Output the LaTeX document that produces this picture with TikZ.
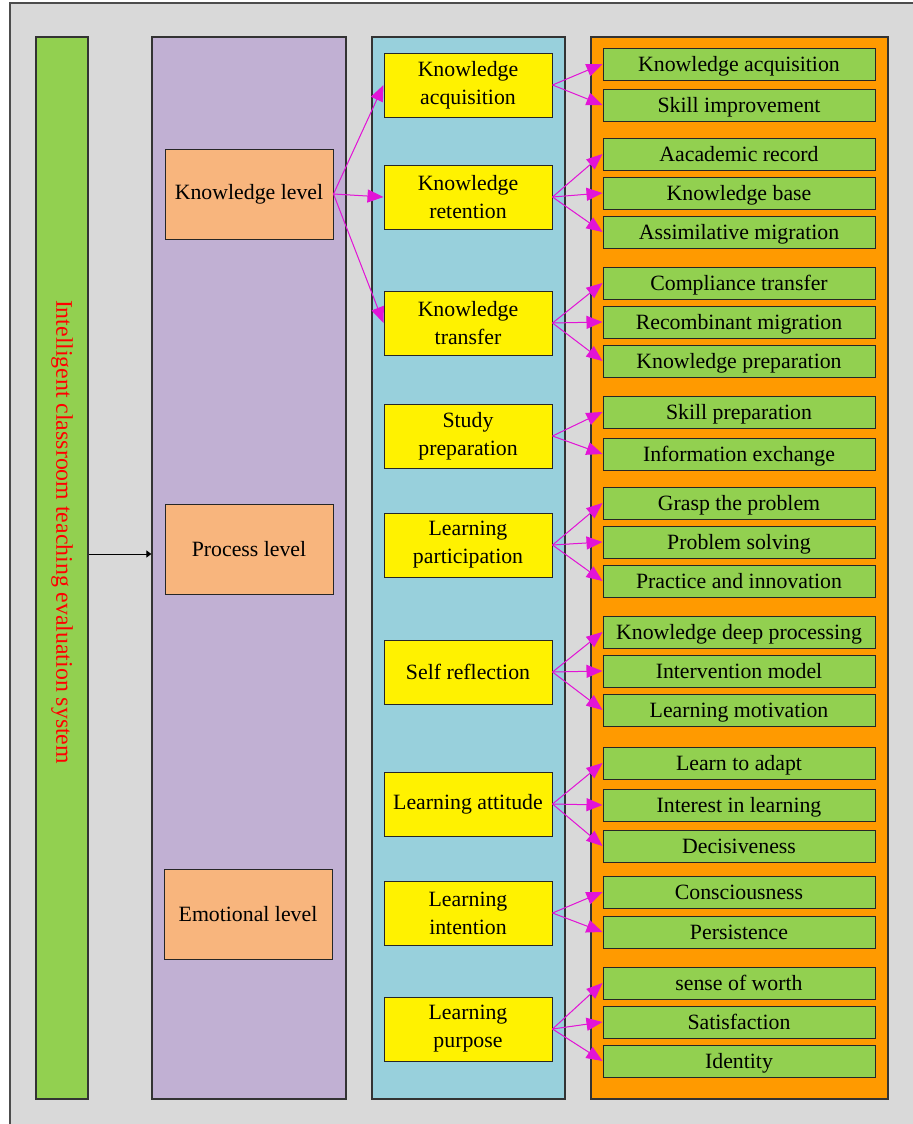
\documentclass[tikz,border=0pt]{standalone}
\usepackage{fontspec}
\setmainfont{Liberation Serif}
\usepackage{xcolor}
\usetikzlibrary{arrows.meta}
\definecolor{bgGray}{HTML}{D9D9D9}
\definecolor{barGreen}{HTML}{92D050}
\definecolor{colPurple}{HTML}{C1B0D3}
\definecolor{colBlue}{HTML}{98D0DC}
\definecolor{colOrange}{HTML}{FF9A00}
\definecolor{lvlOrange}{HTML}{F8B57D}
\definecolor{linkMag}{HTML}{E214D6}

\begin{document}
\begin{tikzpicture}[x=0.5pt,y=-0.5pt,font=\fontsize{10.9}{14}\selectfont,
	col/.style={draw=black!80,line width=0.6pt,minimum height=531pt,inner sep=0pt},
	lvl/.style={draw=black!85,line width=0.5pt,fill=lvlOrange,minimum width=84pt,minimum height=45pt},
	ind/.style={draw=black!85,line width=0.5pt,fill=yellow,minimum width=84pt,minimum height=32pt,align=center,inner sep=1pt},
	sub/.style={draw=black!85,line width=0.5pt,fill=barGreen,minimum width=136pt,minimum height=16pt,inner sep=0pt,text height=9pt,text depth=1.5pt},
	link/.style={-{Triangle[length=8pt,width=6.5pt]},draw=linkMag,fill=linkMag,line width=0.5pt}]
	\useasboundingbox (0,0) rectangle (912,1124);
	\draw[fill=bgGray,draw=black!70,line width=0.6pt] (10,3) rectangle (930,1140);

	\node[col,fill=barGreen,minimum width=26pt] (bar) at (62,568) {};
	\node[col,fill=colPurple,minimum width=97pt] (lv) at (249,568) {};
	\node[col,fill=colBlue,minimum width=96.5pt] (ix) at (468.5,568) {};
	\node[col,fill=colOrange,minimum width=148.5pt] (sb) at (739.5,568) {};
	\node[rotate=-90,text=red,font=\fontsize{11.9}{14}\selectfont] (title) at (62,532) {Intelligent classroom teaching evaluation system};

	\node[lvl] (kl) at (249,194) {Knowledge level};
	\node[lvl] (pl) at (249,549) {Process level};
	\node[lvl] (el) at (248,914) {Emotional level};

	\node[ind] (ka) at (468,85) {Knowledge\\acquisition};
	\node[ind] (kr) at (468,197) {Knowledge\\retention};
	\node[ind] (kt) at (468,323) {Knowledge\\transfer};
	\node[ind] (sp) at (468,436) {Study\\preparation};
	\node[ind] (lp) at (468,545) {Learning\\participation};
	\node[ind] (sr) at (468,672) {Self reflection};
	\node[ind] (la) at (468,804) {Learning attitude};
	\node[ind] (li) at (468,913) {Learning\\intention};
	\node[ind] (lu) at (468,1029) {Learning\\purpose};

	\node[sub] (s1) at (739,64) {Knowledge acquisition};
	\node[sub] (s2) at (739,105) {Skill improvement};
	\node[sub] (s3) at (739,154) {Aacademic record};
	\node[sub] (s4) at (739,193) {Knowledge base};
	\node[sub] (s5) at (739,232) {Assimilative migration};
	\node[sub] (s6) at (739,283) {Compliance transfer};
	\node[sub] (s7) at (739,322) {Recombinant migration};
	\node[sub] (s8) at (739,361) {Knowledge preparation};
	\node[sub] (s9) at (739,412) {Skill preparation};
	\node[sub] (s10) at (739,454) {Information exchange};
	\node[sub] (s11) at (739,503) {Grasp the problem};
	\node[sub] (s12) at (739,542) {Problem solving};
	\node[sub] (s13) at (739,581) {Practice and innovation};
	\node[sub] (s14) at (739,632) {Knowledge deep processing};
	\node[sub] (s15) at (739,671) {Intervention model};
	\node[sub] (s16) at (739,710) {Learning motivation};
	\node[sub] (s17) at (739,763) {Learn to adapt};
	\node[sub] (s18) at (739,805) {Interest in learning};
	\node[sub] (s19) at (739,846) {Decisiveness};
	\node[sub] (s20) at (739,892) {Consciousness};
	\node[sub] (s21) at (739,932) {Persistence};
	\node[sub] (s22) at (739,983) {sense of worth};
	\node[sub] (s23) at (739,1022) {Satisfaction};
	\node[sub] (s24) at (739,1061) {Identity};

	\coordinate (mid) at (120,554);
	\draw[-{Triangle[length=2.5pt,width=3.5pt]},line width=0.5pt] (bar.east |- mid) -- (lv.west |- mid);

	\draw[link] (kl.east) -- (ka.west);
	\draw[link] (kl.east) -- (kr.west);
	\draw[link] (kl.east) -- (kt.west);
	\draw[link] (ka.east) -- (s1.west);
	\draw[link] (ka.east) -- (s2.west);
	\draw[link] (kr.east) -- (s3.west);
	\draw[link] (kr.east) -- (s4.west);
	\draw[link] (kr.east) -- (s5.west);
	\draw[link] (kt.east) -- (s6.west);
	\draw[link] (kt.east) -- (s7.west);
	\draw[link] (kt.east) -- (s8.west);
	\draw[link] (sp.east) -- (s9.west);
	\draw[link] (sp.east) -- (s10.west);
	\draw[link] (lp.east) -- (s11.west);
	\draw[link] (lp.east) -- (s12.west);
	\draw[link] (lp.east) -- (s13.west);
	\draw[link] (sr.east) -- (s14.west);
	\draw[link] (sr.east) -- (s15.west);
	\draw[link] (sr.east) -- (s16.west);
	\draw[link] (la.east) -- (s17.west);
	\draw[link] (la.east) -- (s18.west);
	\draw[link] (la.east) -- (s19.west);
	\draw[link] (li.east) -- (s20.west);
	\draw[link] (li.east) -- (s21.west);
	\draw[link] (lu.east) -- (s22.west);
	\draw[link] (lu.east) -- (s23.west);
	\draw[link] (lu.east) -- (s24.west);
\end{tikzpicture}
\end{document}
